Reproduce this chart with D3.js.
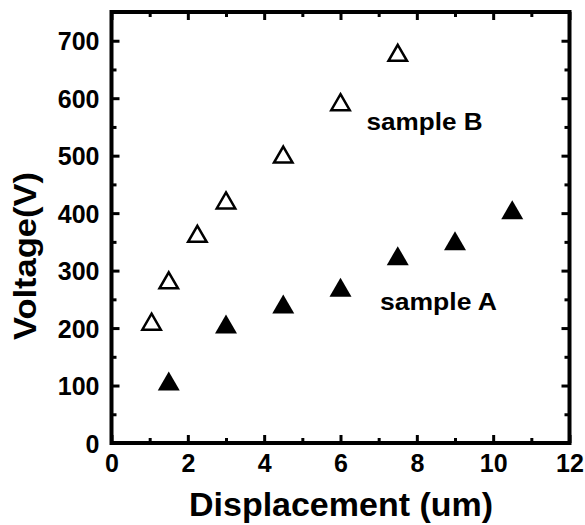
<!DOCTYPE html>
<html>
<head>
<meta charset="utf-8">
<script src="https://cdn.jsdelivr.net/npm/d3@7"></script>
<style>
  body { margin: 0; background: #fff; }
  svg text { font-family: "Liberation Sans", Arial, sans-serif; font-weight: bold; fill: #000; }
</style>
</head>
<body>
<div id="chart"></div>
<script>
// values
var sampleB_x = [1.05, 1.5, 2.25, 3.0, 4.5, 6.0, 7.5]
var sampleB_v = [211, 283, 364, 422, 502, 593, 679]
var sampleA_x = [1.5, 3.0, 4.5, 6.0, 7.5, 9.0, 10.5]
var sampleA_v = [108, 207, 242, 271, 326, 352, 406]

var xTicks = [0, 2, 4, 6, 8, 10, 12]
var xMinor = [1, 3, 5, 7, 9, 11]
var yTicks = [0, 100, 200, 300, 400, 500, 600, 700]
var yMinor = [50, 150, 250, 350, 450, 550, 650]

var width = 585, height = 525
var plotL = 111.5, plotR = 569.5, plotT = 12, plotB = 443

var svg = d3.select('#chart')
  .append('svg')
  .attr('width', width)
  .attr('height', height)

var x = d3.scaleLinear().domain([0, 12]).range([plotL, plotR])
var y = d3.scaleLinear().domain([0, 750]).range([plotB, plotT])

// axes, ticks pointing inward
function drawAxis(axis, tx, ty, labels) {
  var g = svg.append('g')
    .attr('transform', 'translate(' + tx + ',' + ty + ')')
    .call(axis)
  g.select('.domain').remove()
  g.selectAll('.tick line').attr('stroke', '#000').attr('stroke-width', 3)
  if (labels) {
    g.selectAll('.tick text').style('font-size', '25px').attr('fill', '#000')
  } else {
    g.selectAll('.tick text').remove()
  }
  return g
}

var bx = drawAxis(d3.axisBottom(x).tickValues(xTicks).tickSize(-8).tickPadding(10).tickFormat(d3.format('d')), 0, plotB, true)
bx.selectAll('.tick text').attr('dy', '0.75em')
drawAxis(d3.axisBottom(x).tickValues(xMinor).tickSize(-5), 0, plotB, false)
drawAxis(d3.axisTop(x).tickValues(xTicks).tickSize(-8), 0, plotT, false)
drawAxis(d3.axisTop(x).tickValues(xMinor).tickSize(-5), 0, plotT, false)

var ly = drawAxis(d3.axisLeft(y).tickValues(yTicks).tickSize(-8).tickPadding(12), plotL, 0, true)
ly.selectAll('.tick text').attr('dy', '0.36em')
drawAxis(d3.axisLeft(y).tickValues(yMinor).tickSize(-5), plotL, 0, false)
drawAxis(d3.axisRight(y).tickValues(yTicks).tickSize(-8), plotR, 0, false)
drawAxis(d3.axisRight(y).tickValues(yMinor).tickSize(-5), plotR, 0, false)

// frame
svg.append('rect')
  .attr('x', plotL)
  .attr('y', plotT)
  .attr('width', plotR - plotL)
  .attr('height', plotB - plotT)
  .attr('fill', 'none')
  .attr('stroke', '#000')
  .attr('stroke-width', 4)

// triangle centred on its bounding box
function tri(w, h) {
  return 'M0,' + (-h / 2) + 'L' + (w / 2) + ',' + (h / 2) + 'L' + (-w / 2) + ',' + (h / 2) + 'Z'
}

svg.selectAll('.ptB')
  .data(d3.zip(sampleB_x, sampleB_v))
  .enter()
  .append('path')
  .attr('class', 'ptB')
  .attr('d', tri(18.5, 16))
  .attr('fill', '#fff')
  .attr('stroke', '#000')
  .attr('stroke-width', 2.5)
  .attr('stroke-linejoin', 'miter')
  .attr('transform', function(d) { return 'translate(' + x(d[0]) + ',' + y(d[1]) + ')' })

svg.selectAll('.ptA')
  .data(d3.zip(sampleA_x, sampleA_v))
  .enter()
  .append('path')
  .attr('class', 'ptA')
  .attr('d', tri(22, 19))
  .attr('fill', '#000')
  .attr('transform', function(d) { return 'translate(' + x(d[0]) + ',' + y(d[1]) + ')' })

// labels
svg.append('text')
  .attr('x', 366.5)
  .attr('y', 130)
  .attr('textLength', 116)
  .attr('lengthAdjust', 'spacingAndGlyphs')
  .style('font-size', '24px')
  .text('sample B')

svg.append('text')
  .attr('x', 380)
  .attr('y', 310)
  .attr('textLength', 117)
  .attr('lengthAdjust', 'spacingAndGlyphs')
  .style('font-size', '24px')
  .text('sample A')

svg.append('text')
  .attr('x', 341)
  .attr('y', 516)
  .attr('text-anchor', 'middle')
  .attr('textLength', 304)
  .attr('lengthAdjust', 'spacingAndGlyphs')
  .style('font-size', '34px')
  .text('Displacement (um)')

svg.append('text')
  .attr('transform', 'translate(36,256) rotate(-90)')
  .attr('text-anchor', 'middle')
  .attr('textLength', 168)
  .attr('lengthAdjust', 'spacingAndGlyphs')
  .style('font-size', '32px')
  .text('Voltage(V)')
</script>
</body>
</html>
